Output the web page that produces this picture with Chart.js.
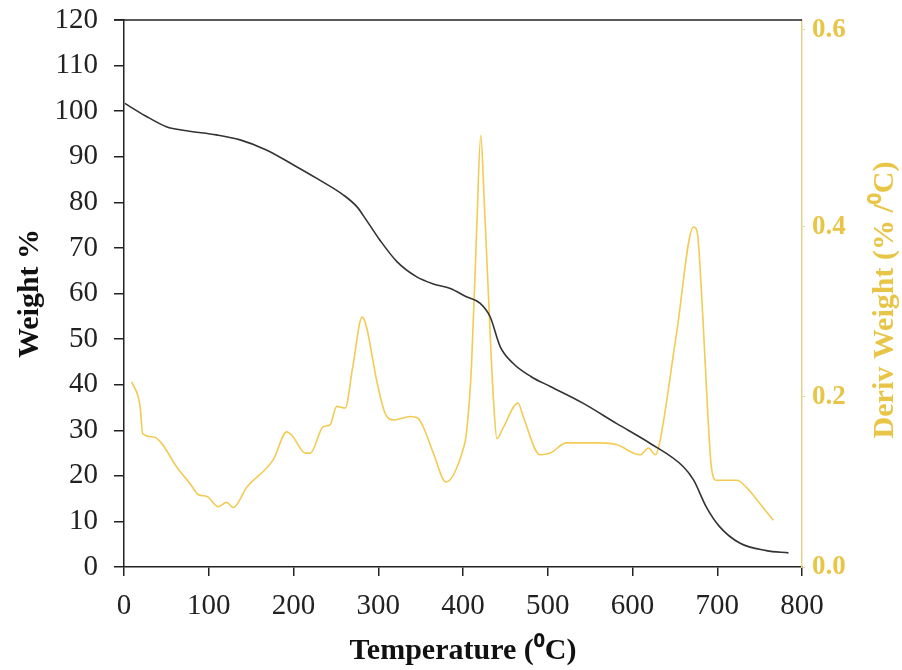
<!DOCTYPE html>
<html>
<head>
<meta charset="utf-8">
<script src="https://cdn.jsdelivr.net/npm/chart.js@4/dist/chart.umd.min.js"></script>
<style>
  body { margin: 0; background: #fff; }
  #wrap { width: 902px; height: 670px; }
</style>
</head>
<body>
<div id="wrap"><canvas id="myChart" width="902" height="670"></canvas></div>
<script>
// TGA (weight %)
var tgaTemp = [1, 25, 50, 74, 109, 137, 168, 200, 227, 259, 275, 286, 302, 322, 345, 365, 385, 404, 420, 432, 444, 459, 480, 503, 542, 581, 621, 660, 672, 687, 703, 727, 758, 784];
var tgaWeight = [101.7, 99.0, 96.6, 95.7, 94.8, 93.7, 91.5, 88.2, 85.3, 81.6, 79.0, 76.1, 71.7, 67.0, 63.7, 62.1, 61.1, 59.3, 57.9, 54.9, 48.3, 44.7, 41.8, 39.6, 35.9, 31.5, 27.1, 22.0, 19.1, 13.2, 8.8, 5.2, 3.6, 3.1];

// DTG (deriv weight)
var dtgTemp = [9, 19, 22, 35, 44, 62, 78, 88, 98, 111, 121, 129, 145, 176, 192, 198, 214, 220, 235, 243, 251, 261, 270, 281, 286, 298, 308, 318, 338, 347, 353, 365, 380, 400, 404, 410, 416, 421, 425, 432, 436, 440, 447, 465, 471, 491, 503, 522, 562, 581, 609, 619, 627, 632, 652, 672, 676, 683, 689, 693, 699, 723, 735, 750, 766];
var dtgDeriv = [0.218, 0.189, 0.157, 0.153, 0.146, 0.118, 0.098, 0.085, 0.083, 0.071, 0.076, 0.070, 0.094, 0.126, 0.159, 0.155, 0.134, 0.134, 0.165, 0.167, 0.189, 0.187, 0.236, 0.294, 0.283, 0.220, 0.181, 0.173, 0.177, 0.175, 0.165, 0.134, 0.100, 0.138, 0.157, 0.236, 0.393, 0.508, 0.432, 0.275, 0.196, 0.151, 0.163, 0.193, 0.177, 0.132, 0.134, 0.146, 0.146, 0.144, 0.132, 0.140, 0.132, 0.146, 0.275, 0.400, 0.396, 0.294, 0.177, 0.118, 0.102, 0.102, 0.093, 0.075, 0.055];

// right axis tick labels (the top one sits just under the frame)
var rightTickValues = [0, 0.2, 0.4, 0.632];
var rightTickLabels = ['0.0', '0.2', '0.4', '0.6'];

var gold = '#E8C547';
var serif = "'Liberation Serif', 'Times New Roman', serif";

function toPoints(xs, ys) {
    return xs.map(function (x, i) { return { x: x, y: ys[i] }; });
}

// fixed axis width, no extra room for the end labels
function fixWidth(w) {
    return function (s) {
        s.width = w;
        s.paddingTop = 0;
        s.paddingBottom = 0;
    };
}

// top frame line + right axis title (reads bottom to top)
var framePlugin = {
    id: 'frame',
    afterDraw: function (chart) {
        var c = chart.ctx, a = chart.chartArea;
        c.save();
        c.strokeStyle = '#222';
        c.lineWidth = 1.5;
        c.beginPath();
        c.moveTo(a.left - 10, a.top);
        c.lineTo(a.right, a.top);
        c.stroke();
        c.translate(885, 300);
        c.rotate(-Math.PI / 2);
        c.fillStyle = gold;
        c.font = 'bold 30px ' + serif;
        c.textAlign = 'center';
        c.textBaseline = 'middle';
        c.fillText('Deriv Weight (% /\u2070C)', 0, 0);
        c.restore();
    }
};

var ctx = document.getElementById('myChart').getContext('2d');
var myChart = new Chart(ctx, {
    type: 'line',
    data: {
        datasets: [{
            label: 'Weight %',
            data: toPoints(tgaTemp, tgaWeight),
            yAxisID: 'y',
            borderColor: '#333',
            borderWidth: 1.6,
            pointRadius: 0,
            cubicInterpolationMode: 'monotone',
            fill: false
        }, {
            label: 'Deriv Weight',
            data: toPoints(dtgTemp, dtgDeriv),
            yAxisID: 'y1',
            borderColor: '#F2CB55',
            borderWidth: 1.6,
            pointRadius: 0,
            cubicInterpolationMode: 'monotone',
            fill: false
        }]
    },
    options: {
        responsive: false,
        animation: false,
        devicePixelRatio: 1,
        layout: { padding: { top: 20, bottom: 0, left: 0, right: 0 } },
        plugins: {
            legend: { display: false },
            tooltip: { enabled: false }
        },
        scales: {
            x: {
                type: 'linear',
                min: 0,
                max: 800,
                afterFit: function (s) { s.height = 103; s.paddingLeft = 0; s.paddingRight = 0; },
                grid: { drawOnChartArea: false, tickLength: 9, color: '#222', lineWidth: 1.5 },
                border: { color: '#222', width: 1.5 },
                ticks: { stepSize: 100, autoSkip: false, maxRotation: 0, padding: 13, color: '#222', font: { family: serif, size: 29 } },
                title: { display: true, text: 'Temperature (\u2070C)', color: '#111', padding: { top: 0, bottom: 1 }, font: { family: serif, size: 30, weight: 'bold' } }
            },
            y: {
                position: 'left',
                min: 0,
                max: 120,
                afterFit: fixWidth(124),
                grid: { drawOnChartArea: false, tickLength: 10, color: '#222', lineWidth: 1.5 },
                border: { color: '#222', width: 1.5 },
                ticks: { stepSize: 10, autoSkip: false, padding: 16, color: '#222', font: { family: serif, size: 29 } },
                title: { display: true, text: 'Weight %', color: '#111', padding: { top: 12, bottom: 0 }, font: { family: serif, size: 30, weight: 'bold' } }
            },
            y1: {
                position: 'right',
                min: 0,
                max: 0.6435,
                afterFit: fixWidth(100),
                afterBuildTicks: function (s) {
                    s.ticks = rightTickValues.map(function (v) { return { value: v }; });
                },
                grid: { drawOnChartArea: false, tickLength: 3, color: '#E6D690', lineWidth: 1 },
                border: { color: '#E3D38E', width: 1.5 },
                ticks: {
                    autoSkip: false,
                    padding: 7,
                    color: gold,
                    font: { family: serif, size: 27, weight: 'bold' },
                    callback: function (v, i) { return rightTickLabels[i]; }
                }
            }
        }
    },
    plugins: [framePlugin]
});
</script>
</body>
</html>
